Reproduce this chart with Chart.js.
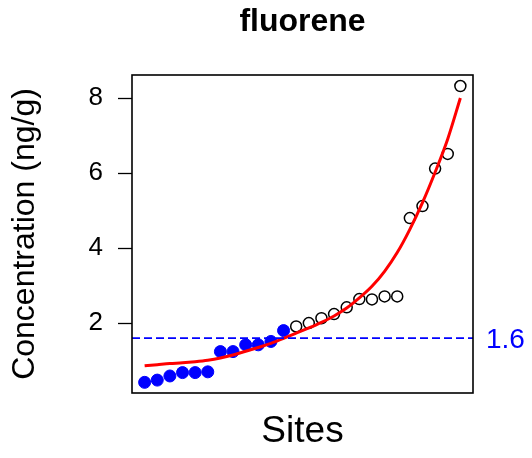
<!DOCTYPE html>
<html>
<head>
<meta charset="utf-8">
<script src="https://cdn.jsdelivr.net/npm/chart.js@4/dist/chart.umd.min.js"></script>
<style>
  body { margin: 0; background: #fff; }
  #wrap { width: 532px; height: 458px; }
</style>
</head>
<body>
<div id="wrap"><canvas id="fluoreneChart" width="532" height="458"></canvas></div>
<script>
// sites below the guideline (filled) and above it (open)
var filledSites = [1, 2, 3, 4, 5, 6, 7, 8, 9, 10, 11, 12];
var filledConc = [0.42, 0.48, 0.59, 0.68, 0.68, 0.70, 1.24, 1.24, 1.42, 1.42, 1.51, 1.80];
var openSites = [13, 14, 15, 16, 17, 18, 19, 20, 21, 22, 23, 24, 25, 26];
var openConc = [1.91, 2.00, 2.13, 2.24, 2.42, 2.64, 2.63, 2.71, 2.71, 4.80, 5.12, 6.12, 6.51, 8.32];

// fitted curve, read at each site
var curveSites = [1, 2, 3, 4, 5, 6, 7, 8, 9, 10, 11, 12, 13, 14, 15, 16, 17, 18, 19, 20, 21, 22, 23, 24, 25, 26];
var curveConc = [0.86, 0.89, 0.92, 0.94, 0.97, 1.01, 1.07, 1.15, 1.25, 1.35, 1.46, 1.59, 1.73, 1.87, 2.02, 2.19, 2.40, 2.67, 2.98, 3.38, 3.88, 4.50, 5.21, 6.02, 6.91, 8.00];

var threshold = 1.6;
var yTicks = [2, 4, 6, 8];

var fontFamily = '"Liberation Sans", Arial, sans-serif';

function toPoints(xs, ys) {
    return xs.map(function (x, i) { return { x: x, y: ys[i] }; });
}

// box round the plot, dashed guideline and its label
var framePlugin = {
    id: 'frame',
    afterDatasetsDraw: function (chart) {
        var a = chart.chartArea;
        var c = chart.ctx;
        var y = chart.scales.y.getPixelForValue(threshold);
        c.save();
        c.strokeStyle = '#0000FF';
        c.lineWidth = 1.6;
        c.setLineDash([8, 4]);
        c.beginPath();
        c.moveTo(a.left, y);
        c.lineTo(a.right, y);
        c.stroke();
        c.setLineDash([]);
        c.strokeStyle = '#000';
        c.lineWidth = 1.6;
        c.strokeRect(a.left, a.top, a.right - a.left, a.bottom - a.top);
        c.fillStyle = '#0000FF';
        c.font = '28px ' + fontFamily;
        c.textAlign = 'left';
        c.textBaseline = 'middle';
        c.fillText(String(threshold), a.right + 13, y + 2);
        c.restore();
    }
};

var ctx = document.getElementById('fluoreneChart').getContext('2d');
var chart = new Chart(ctx, {
    type: 'scatter',
    data: {
        datasets: [{
            label: 'fit',
            data: toPoints(curveSites, curveConc),
            showLine: true,
            borderColor: '#FF0000',
            borderWidth: 3,
            pointRadius: 0,
            cubicInterpolationMode: 'monotone',
            order: 0
        },
        {
            label: 'below',
            data: toPoints(filledSites, filledConc),
            backgroundColor: '#0000FF',
            borderColor: '#0000FF',
            borderWidth: 1,
            pointRadius: 6,
            order: 1
        },
        {
            label: 'above',
            data: toPoints(openSites, openConc),
            backgroundColor: 'rgba(0,0,0,0)',
            borderColor: '#000',
            borderWidth: 1.5,
            pointRadius: 5.5,
            order: 2
        }]
    },
    options: {
        responsive: false,
        animation: false,
        events: [],
        layout: { padding: { left: 0, right: 59, top: 0, bottom: 0 } },
        plugins: {
            legend: { display: false },
            tooltip: { enabled: false },
            title: {
                display: true,
                text: 'fluorene',
                fullSize: false,
                color: '#000',
                font: { family: fontFamily, size: 32, weight: 'bold' },
                padding: { top: 3, bottom: 33.6 }
            }
        },
        scales: {
            x: {
                type: 'linear',
                min: 0,
                max: 27,
                grid: { display: false },
                border: { display: false },
                ticks: { display: false },
                title: {
                    display: true,
                    text: 'Sites',
                    color: '#000',
                    font: { family: fontFamily, size: 37 },
                    padding: { top: 0, bottom: 3.6 }
                },
                afterFit: function (scale) { scale.height = 65; }
            },
            y: {
                min: 0.136,
                max: 8.614,
                grid: { drawOnChartArea: false, color: '#000', tickLength: 14, tickWidth: 1.3 },
                border: { display: false },
                ticks: {
                    color: '#000',
                    padding: 15,
                    font: { family: fontFamily, size: 26 }
                },
                afterBuildTicks: function (scale) {
                    scale.ticks = yTicks.map(function (v) { return { value: v }; });
                },
                title: {
                    display: true,
                    text: 'Concentration (ng/g)',
                    color: '#000',
                    font: { family: fontFamily, size: 32 },
                    padding: { top: 6, bottom: 0 }
                },
                afterFit: function (scale) { scale.width = 132; }
            }
        }
    },
    plugins: [framePlugin]
});
</script>
</body>
</html>
